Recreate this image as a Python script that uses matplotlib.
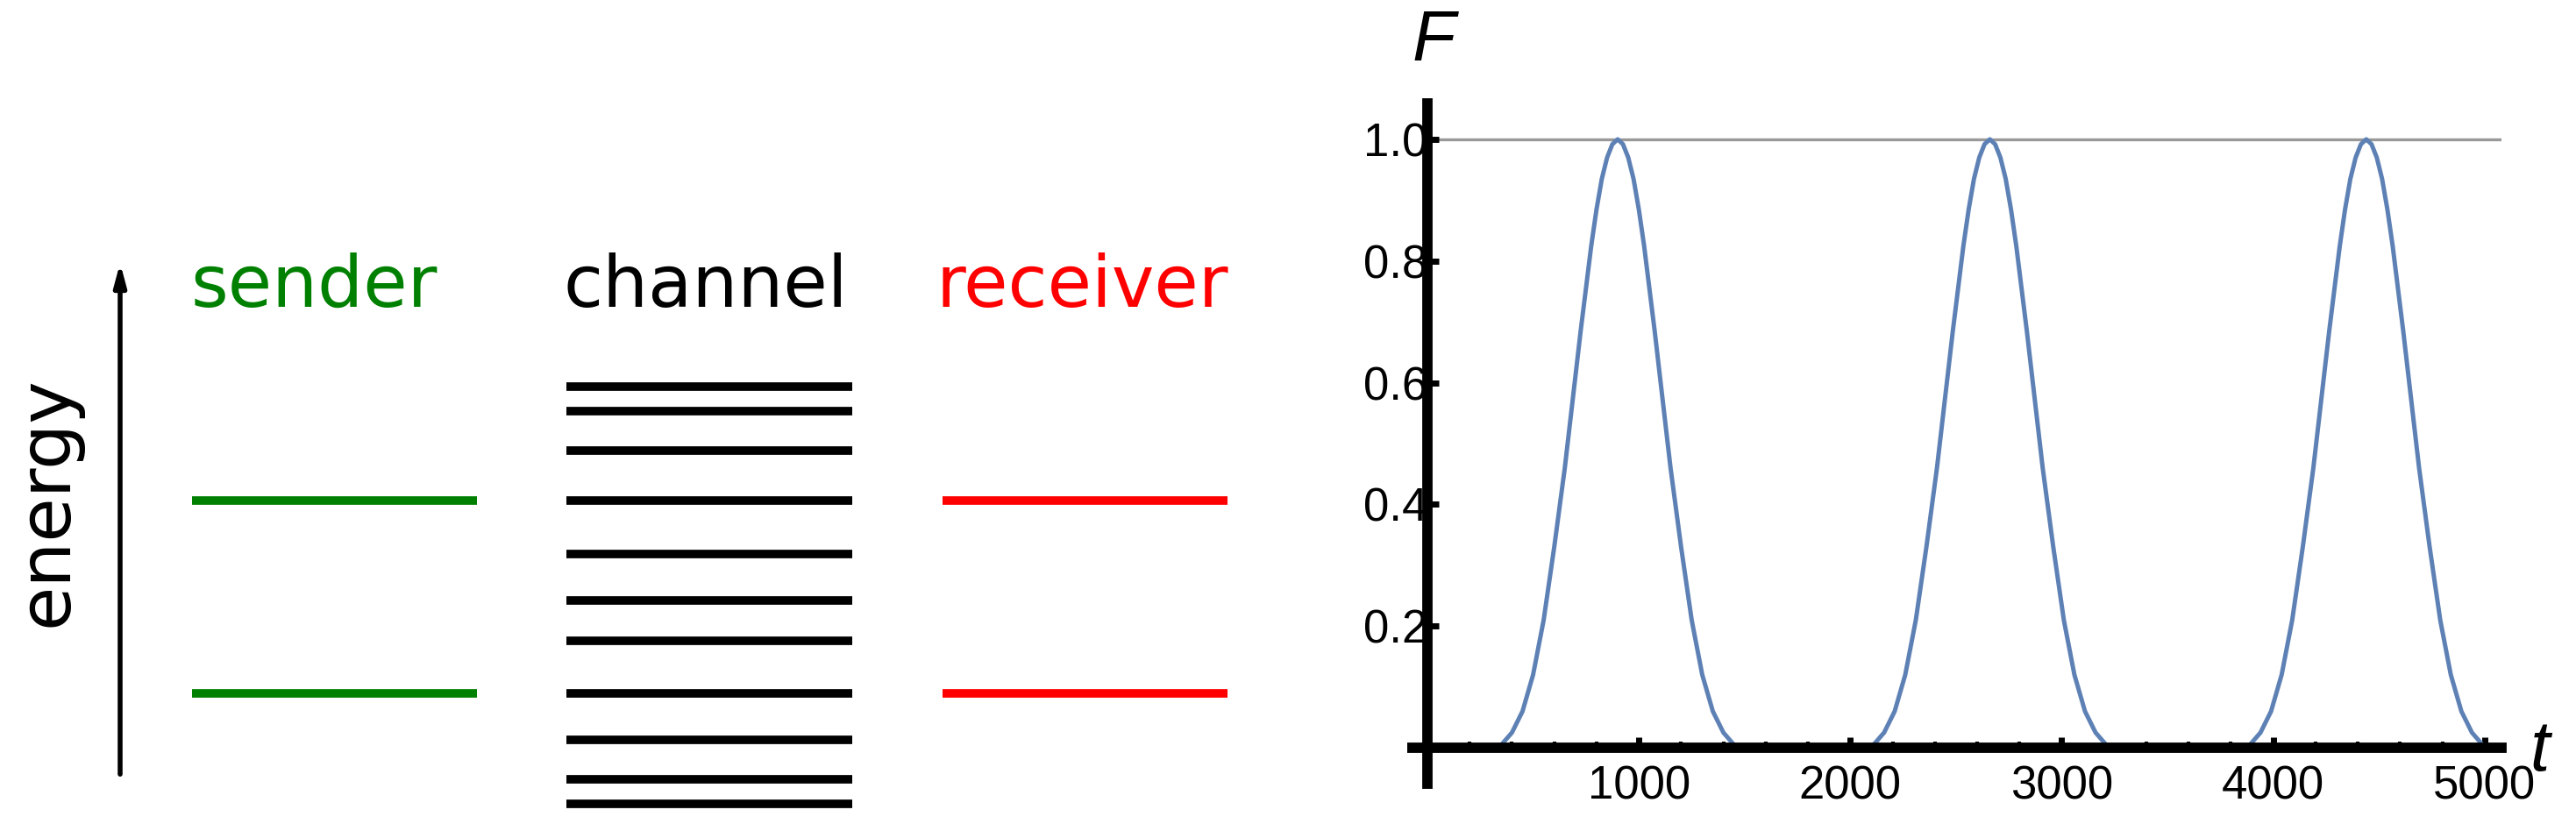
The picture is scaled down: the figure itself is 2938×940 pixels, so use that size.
import matplotlib
matplotlib.use("Agg")
import matplotlib.pyplot as plt
import numpy as np

# ---- data ----
sender_levels = [571, 791]            # pixel rows of levels (left diagram)
receiver_levels = [571, 791]
channel_levels = [441, 469, 514, 571, 632, 685, 731, 791, 844, 889, 917]
peak_times = [900, 2660, 4440]
peak_offsets = [-600, -550, -500, -450, -400, -350, -300, -250, -200, -175, -150, -125, -100,
                -75, -50, -25, 0, 25, 50, 75, 100, 125, 150, 175, 200,
                250, 300, 350, 400, 450, 500, 550, 600]
peak_shape = [0.0, 0.005, 0.025, 0.06, 0.12, 0.21, 0.33, 0.46, 0.61, 0.685, 0.755, 0.825, 0.885,
              0.935, 0.97, 0.992, 1.0, 0.992, 0.97, 0.935, 0.885, 0.825, 0.755, 0.685, 0.61,
              0.46, 0.33, 0.21, 0.12, 0.06, 0.025, 0.005, 0.0]
x_ticks = [1000, 2000, 3000, 4000, 5000]
y_ticks = [0.2, 0.4, 0.6, 0.8, 1.0]

W, H = 2938, 940
fig = plt.figure(figsize=(W / 100, H / 100), dpi=100)

# ---- left diagram in pixel coords ----
axL = fig.add_axes([0, 0, 1, 1])
axL.set_xlim(0, W); axL.set_ylim(H, 0); axL.axis("off")
for y in sender_levels:
    axL.plot([219, 544], [y, y], color="#008000", lw=7, solid_capstyle="butt")
for y in receiver_levels:
    axL.plot([1075, 1400], [y, y], color="#ff0000", lw=7, solid_capstyle="butt")
for y in channel_levels:
    axL.plot([646, 972], [y, y], color="black", lw=7, solid_capstyle="butt")
axL.annotate("", xy=(137, 297), xytext=(137, 886),
             arrowprops=dict(arrowstyle="-|>,head_length=1.5,head_width=0.4", lw=4, color="black"))
fs = 59
axL.text(358, 350, "sender", color="#008000", fontsize=fs, ha="center", va="baseline")
axL.text(805, 350, "channel", color="black", fontsize=fs, ha="center", va="baseline")
axL.text(1234, 350, "receiver", color="#ff0000", fontsize=fs, ha="center", va="baseline")
axL.text(54, 572, "energy", fontsize=fs, rotation=90, ha="center", va="center")

# ---- right plot ----
ax = fig.add_axes([0.5541, 0.0489, 0.9711 - 0.5541, 0.8745 - 0.0489])
ax.set_xlim(0, 5080)
ax.set_ylim(-0.059, 1.059)
ax.axhline(1.0, color="#999999", lw=2.4, zorder=1)
for p in peak_times:
    t = np.array([p + o for o in peak_offsets], dtype=float)
    f = np.array(peak_shape)
    m = t <= 5000
    ax.plot(t[m], f[m], color="#5E81B5", lw=3.6, zorder=2)
for s in ["top", "right"]:
    ax.spines[s].set_visible(False)
ax.spines["bottom"].set_position(("data", 0))
ax.spines["left"].set_linewidth(8.5)
ax.spines["bottom"].set_linewidth(8.5)
ax.plot([-96, 0], [0, 0], color="black", lw=8.5, clip_on=False, solid_capstyle="butt")
ax.set_xticks(x_ticks)
ax.set_xticks(np.arange(200, 5001, 200), minor=True)
ax.set_yticks(y_ticks)
ax.set_yticklabels([f"{v:.1f}" for v in y_ticks])
ax.tick_params(axis="x", which="major", direction="in", length=9, width=5, pad=14, labelsize=38)
ax.tick_params(axis="x", which="minor", direction="in", length=5, width=3)
ax.tick_params(axis="y", which="major", direction="in", length=9, width=5, pad=0, labelsize=38)
for lab in ax.get_xticklabels() + ax.get_yticklabels():
    lab.set_family("Liberation Sans")
fig.text(1635 / W, 1 - 48 / H, "F", fontsize=58, style="italic", ha="center", va="center",
         family="Liberation Sans")
fig.text(2897 / W, 1 - 858 / H, "t", fontsize=58, style="italic", ha="center", va="center",
         family="Liberation Sans")

fig.savefig("out.png", dpi=100)
